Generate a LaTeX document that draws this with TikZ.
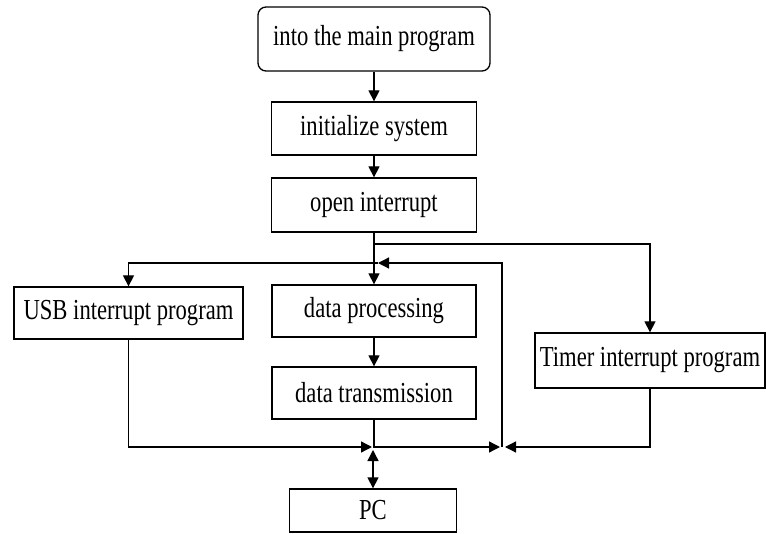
\documentclass[tikz,border=0pt]{standalone}
\usepackage{fontspec}
\setmainfont[FakeStretch=0.78]{Liberation Serif}
\usetikzlibrary{arrows.meta}

\begin{document}
\begin{tikzpicture}[->,>={Triangle[length=5.5pt,width=5.5pt]},
    x=0.5pt, y=-0.5pt,
    line width=0.65pt,
    block/.style={rectangle,
          draw,
          inner sep=0pt,
          font=\fontsize{14.5}{17}\selectfont}]

    \useasboundingbox (0,0) rectangle (766,534);

    \node[block,
          rounded corners=4pt,
          minimum width = 116pt,
          minimum height = 32pt
          ] (main) at (374,39) {into the main program};

    \node[block,
          minimum width = 102.5pt,
          minimum height = 26.5pt
          ] (init) at (374,128.5) {initialize system};

    \node[block,
          minimum width = 102.5pt,
          minimum height = 27pt
          ] (open) at (374,205) {open interrupt};

    \node[block,
          minimum width = 114.5pt,
          minimum height = 26pt
          ] (usb) at (128.5,313) {USB interrupt program};

    \node[block,
          minimum width = 102pt,
          minimum height = 26pt
          ] (proc) at (374,311) {data processing};

    \node[block,
          minimum width = 102pt,
          minimum height = 26pt
          ] (trans) at (374,393) {data transmission};

    \node[block,
          minimum width = 115pt,
          minimum height = 27.5pt
          ] (timer) at (650,360.5) {Timer interrupt program};

    \node[block,
          minimum width = 83.5pt,
          minimum height = 21.5pt
          ] (pc) at (373,510.5) {PC};

    % junction points
    \coordinate (split) at (374,244);
    \coordinate (loopR) at (502,263);
    \coordinate (loopIn) at (378,263);
    \coordinate (loopB) at (502,447);
    \coordinate (busL) at (372,447);
    \coordinate (mergeL) at (500,447);
    \coordinate (mergeR) at (505,447);
    \coordinate (pcLink) at (373,450);

    \path
    %main flow
    (main) edge [] (init)
    (init) edge [] (open)
    (open) edge [] (proc)
    (proc) edge [] (trans)
    (pcLink) edge [<->] (pc) ;

    %interrupt branches
    \draw (split) -| (timer);
    \draw (loopB) -- (loopR) -- (loopIn);
    \draw (loopIn) -| (usb);
    \draw (usb) |- (busL);
    \draw (trans) |- (mergeL);
    \draw (timer) |- (mergeR);

\end{tikzpicture}
\end{document}
